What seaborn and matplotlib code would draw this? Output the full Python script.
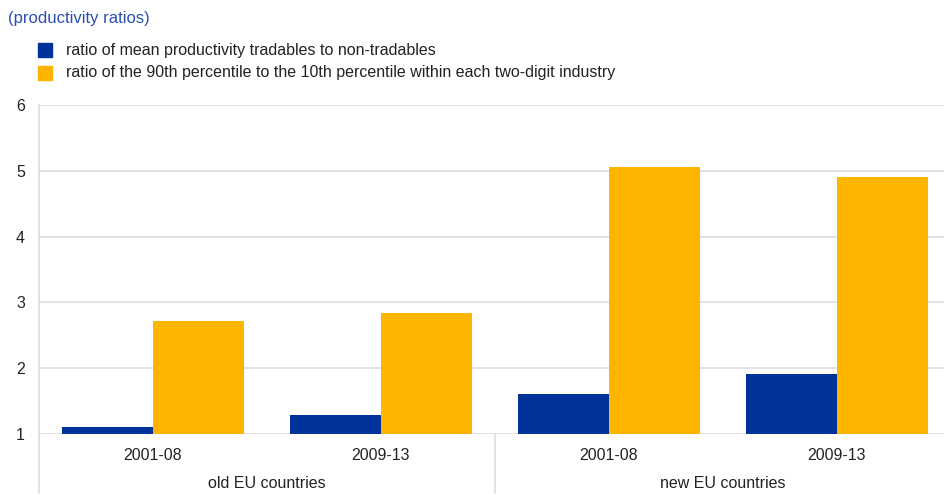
import matplotlib
matplotlib.use("Agg")
import matplotlib.pyplot as plt
import seaborn as sns
import pandas as pd

# Productivity ratios by country group and period
groups = ["old EU countries", "old EU countries", "new EU countries", "new EU countries"]
periods = ["2001-08", "2009-13", "2001-08", "2009-13"]
mean_ratio = [1.10, 1.29, 1.61, 1.91]
pctl_ratio = [2.71, 2.84, 5.06, 4.90]
series_names = [
    "ratio of mean productivity tradables to non-tradables",
    "ratio of the 90th percentile to the 10th percentile within each two-digit industry",
]
colors = ["#003299", "#FFB400"]
yticks = [1, 2, 3, 4, 5, 6]

slots = [f"{g}|{p}" for g, p in zip(groups, periods)]
df = pd.DataFrame({
    "slot": slots * 2,
    "value": mean_ratio + pctl_ratio,
    "series": [series_names[0]] * 4 + [series_names[1]] * 4,
})

sns.set_style("white")
plt.rcParams["font.family"] = ["Liberation Sans", "DejaVu Sans"]

FS = 11.5
W, H = 944, 499
fig = plt.figure(figsize=(W / 100, H / 100), dpi=100)
left_px, right_px, top_px, bot_px = 39, 951, 105, 434
ax = fig.add_axes([left_px / W, 1 - bot_px / H,
                   (right_px - left_px) / W, (bot_px - top_px) / H])

sns.barplot(data=df, x="slot", y="value", hue="series", order=slots,
            hue_order=series_names, palette=colors, width=0.8, gap=0,
            saturation=1, linewidth=0, legend=False, ax=ax)

ax.set_ylim(1, 6)
ax.set_xlim(-0.5, 3.5)
ax.set_yticks(yticks)
ax.set_yticklabels([str(t) for t in yticks], fontsize=FS, color="#222222")
ax.set_xticks(range(4))
ax.set_xticklabels(periods, fontsize=FS, color="#222222")
ax.set_xlabel("")
ax.set_ylabel("")
ax.tick_params(axis="both", length=0)
ax.tick_params(axis="y", pad=10)
ax.tick_params(axis="x", pad=10)

grid_c = "#dddddd"
ax.yaxis.grid(True, color=grid_c, linewidth=1.2)
ax.set_axisbelow(True)
for s in ["top", "right", "bottom"]:
    ax.spines[s].set_visible(False)
ax.spines["left"].set_color(grid_c)
ax.spines["left"].set_linewidth(1.2)

# Separators below the axis between country groups
ext = -(493 - bot_px) / (bot_px - top_px)
trans = ax.get_xaxis_transform()
for xv in [-0.5, 1.5]:
    ax.plot([xv, xv], [0, ext], transform=trans, color=grid_c,
            linewidth=1.2, clip_on=False)

# Group labels
for xc, name in [(0.5, "old EU countries"), (2.5, "new EU countries")]:
    ax.text(xc, -(484 - bot_px) / (bot_px - top_px), name, transform=trans,
            ha="center", va="center", fontsize=FS, color="#222222")

# Title
fig.text(8 / W, 1 - 19 / H, "(productivity ratios)", color="#2a4fb0",
         fontsize=12, ha="left", va="center")

# Legend
for i, (name, c) in enumerate(zip(series_names, colors)):
    yc = 1 - (50 + 23 * i) / H
    fig.patches.append(plt.Rectangle((38 / W, yc - 7 / H), 14 / W, 14 / H,
                                     transform=fig.transFigure, color=c))
    fig.text(66 / W, yc, name, fontsize=FS, color="#222222",
             ha="left", va="center")

fig.savefig("out.png", dpi=100)
